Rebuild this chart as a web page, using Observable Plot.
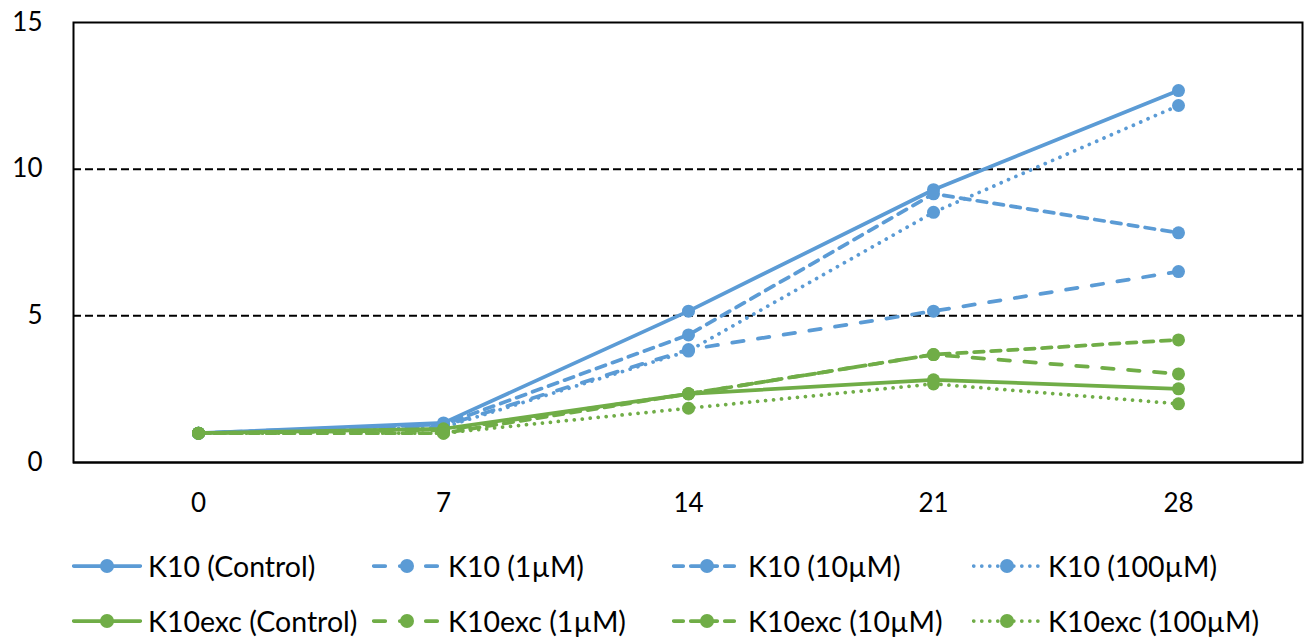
<!DOCTYPE html>
<html>
<head>
<meta charset="utf-8">
<script src="https://cdn.jsdelivr.net/npm/d3@7"></script>
<script src="https://cdn.jsdelivr.net/npm/@observablehq/plot@0.6"></script>
<style>
  html, body { margin: 0; padding: 0; background: #fff; }
  #wrap { position: relative; width: 1313px; height: 641px; font-family: Lato, "Noto Sans", sans-serif; }
  #legend .item { position: absolute; display: flex; align-items: center; height: 30px; }
  #legend .item span { font-size: 28.5px; color: #000; margin-left: 6px; white-space: nowrap; }
</style>
</head>
<body>
<div id="wrap">
  <div id="chart"></div>
  <div id="legend"></div>
</div>
<script>
// Sampling days (x categories)
const days = [0, 7, 14, 21, 28];
const yTicks = [0, 5, 10, 15];

// Relative values per day
const k10Control   = [1, 1.35, 5.16, 9.30, 12.68];
const k10_1uM      = [1, 1.25, 3.85, 5.16, 6.51];
const k10_10uM     = [1, 1.30, 4.35, 9.16, 7.83];
const k10_100uM    = [1, 1.20, 3.80, 8.53, 12.17];
const k10excControl = [1, 1.15, 2.34, 2.82, 2.51];
const k10exc_1uM    = [1, 1.10, 2.34, 3.68, 3.02];
const k10exc_10uM   = [1, 1.00, 2.34, 3.68, 4.18];
const k10exc_100uM  = [1, 1.00, 1.85, 2.68, 2.00];

const seriesNames = [
  "K10 (Control)", "K10 (1µM)", "K10 (10µM)", "K10 (100µM)",
  "K10exc (Control)", "K10exc (1µM)", "K10exc (10µM)", "K10exc (100µM)"
];
const seriesValues = [
  k10Control, k10_1uM, k10_10uM, k10_100uM,
  k10excControl, k10exc_1uM, k10exc_10uM, k10exc_100uM
];

const BLUE = "#5b9bd5", GREEN = "#70ad47";
// line styles: solid, long dash, dash, round dot
const styles = {
  solid: null,
  longDash: "11.5,14.5",
  dash: "9.5,7.5",
  dot: "0.01,8"
};
const seriesStyle = [
  {color: BLUE, dash: styles.solid}, {color: BLUE, dash: styles.longDash},
  {color: BLUE, dash: styles.dash}, {color: BLUE, dash: styles.dot},
  {color: GREEN, dash: styles.solid}, {color: GREEN, dash: styles.longDash},
  {color: GREEN, dash: styles.dash}, {color: GREEN, dash: styles.dot}
];

const series = seriesNames.map((name, i) => ({
  name,
  ...seriesStyle[i],
  rows: days.map((d, j) => ({day: d, value: seriesValues[i][j], name}))
}));

const LW = 3.75;

const marks = [
  Plot.ruleY([5, 10], {stroke: "#000", strokeWidth: 2, strokeDasharray: "8,4"}),
  Plot.axisY(yTicks, {tickSize: 0, tickPadding: 31, fontSize: 26, fill: "#000", label: null}),
  Plot.axisX(days, {tickSize: 0, tickPadding: 31, fontSize: 26, fill: "#000", label: null})
];
for (const s of series) {
  marks.push(Plot.line(s.rows, {
    x: "day", y: "value", stroke: s.color, strokeWidth: LW,
    strokeDasharray: s.dash, strokeLinecap: "round", strokeLinejoin: "round"
  }));
  marks.push(Plot.dot(s.rows, {x: "day", y: "value", r: 6.5, fill: s.color, stroke: "none"}));
}
marks.push(Plot.ruleY([0], {stroke: "#000", strokeWidth: 2}));
marks.push(Plot.frame({stroke: "#000", strokeWidth: 2}));

const chart = Plot.plot({
  width: 1313,
  height: 535,
  marginTop: 22,
  marginBottom: 73,
  marginLeft: 73,
  marginRight: 11,
  style: {fontFamily: "Lato, 'Noto Sans', sans-serif", fontSize: "26px", background: "#fff", overflow: "visible"},
  x: {type: "point", domain: days, padding: 0.5},
  y: {domain: [0, 15]},
  marks
});
document.getElementById("chart").appendChild(chart);

// Legend: two rows of four swatches below the plot
const legend = d3.select("#legend");
const colX = [72, 372, 672, 972];
const rowY = [566, 620.5];
series.forEach((s, i) => {
  const row = Math.floor(i / 4), col = i % 4;
  const item = legend.append("div").attr("class", "item")
    .style("left", colX[col] + "px")
    .style("top", (rowY[row] - 15) + "px");
  const svg = item.append("svg").attr("width", 70).attr("height", 30);
  svg.append("line")
    .attr("x1", 1.75).attr("x2", 68.25).attr("y1", 15).attr("y2", 15)
    .attr("stroke", s.color).attr("stroke-width", LW)
    .attr("stroke-linecap", "round")
    .attr("stroke-dasharray", s.dash);
  svg.append("circle").attr("cx", 35).attr("cy", 15).attr("r", 7).attr("fill", s.color);
  item.append("span").text(s.name);
});
</script>
</body>
</html>
